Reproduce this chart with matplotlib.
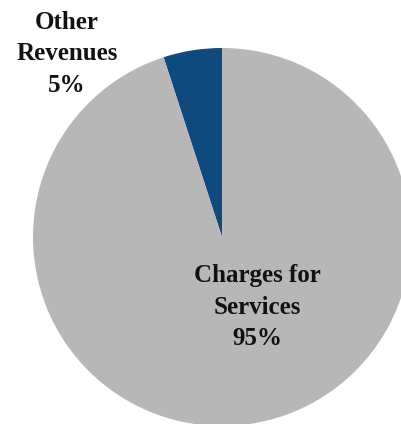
import matplotlib
matplotlib.use("Agg")
import matplotlib.pyplot as plt

# Revenue composition
categories = ["Other Revenues", "Charges for Services"]
shares = [5, 95]
label_text = ["Other\nRevenues", "Charges for\nServices"]
colors = ["#0f4a7e", "#b7b7b7"]

W, H, DPI = 401, 424, 100
fig = plt.figure(figsize=(W / DPI, H / DPI), dpi=DPI)
ax = fig.add_axes([0, 0, 1, 1])

# pie centre and radius in pixels
cx, cy, r = 222, 237, 189

ax.pie(shares, colors=colors, startangle=90, counterclock=True,
       radius=1, center=(0, 0), frame=True,
       wedgeprops=dict(linewidth=0))
ax.set_xlim(-cx / r, (W - cx) / r)
ax.set_ylim(-(H - cy) / r, cy / r)
ax.set_aspect("auto")
ax.axis("off")

font = dict(family="Liberation Serif", weight="bold", fontsize=18,
            color="#111111", ha="center", va="center", linespacing=1.48)

def px(x, y):
    return (x - cx) / r, (cy - y) / r

ax.text(*px(67, 54), f"{label_text[0]}\n{shares[0]}%", **font)
ax.text(*px(257, 307), f"{label_text[1]}\n{shares[1]}%", **font)

fig.savefig("out.png", dpi=DPI)
